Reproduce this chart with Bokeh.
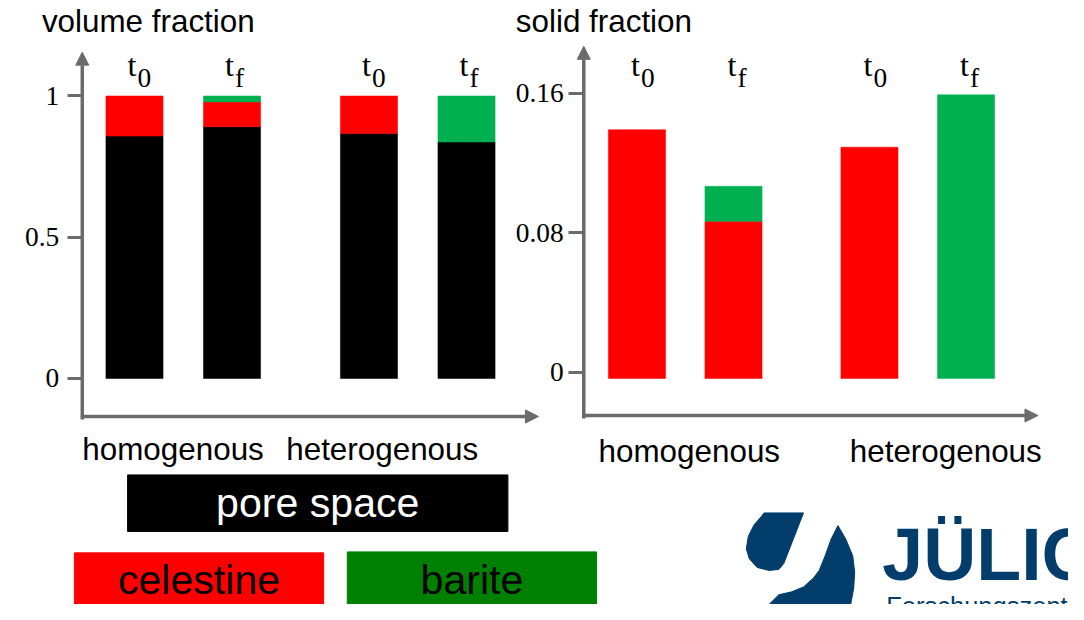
import numpy as np
from bokeh.plotting import figure
from bokeh.models import (Range1d, LinearAxis, FixedTicker, Arrow, NormalHead,
                          ColumnDataSource)
from bokeh.core.properties import value
from bokeh.embed import file_html
from bokeh.resources import INLINE

# ---------------- data ----------------
conditions = ["homogenous", "heterogenous"]
bar_condition = ["homogenous", "homogenous", "heterogenous", "heterogenous"]
time_subscripts = ["0", "f", "0", "f"]

vol_pore = [0.858, 0.891, 0.867, 0.837]
vol_celestine = [0.142, 0.088, 0.133, 0.0]
vol_barite = [0.0, 0.021, 0.0, 0.163]

solid_celestine = [0.139, 0.0865, 0.129, 0.0]
solid_barite = [0.0, 0.0201, 0.0, 0.159]

vol_ticks = [0, 0.5, 1]
vol_tick_labels = ["0", "0.5", "1"]
solid_ticks = [0, 0.08, 0.16]
solid_tick_labels = ["0", "0.08", "0.16"]

titles = ["volume fraction", "solid fraction"]
legend_labels = ["pore space", "celestine", "barite"]
logo_texts = ["JÜLICH", "Forschungszentrum"]

# ---------------- style / layout ----------------
C_PORE, C_CEL, C_BAR = "#000000", "#ff0000", "#00b050"
LEG_FILL = ["#000000", "#ff0000", "#008000"]
LEG_TEXT = ["#ffffff", "#000000", "#000000"]
AX = "#6b6b6b"
SANS = "Liberation Sans"
SERIF = "Liberation Serif"
LOGO = "#023d6b"

W, H = 1068, 604            # figure size (fits window with 8px margin)
RW, RH = 1084, 620          # layout design space
SX, SY = W / RW, H / RH
FS = (SX + SY) / 2          # font scale
BASE_FIX = 0.37             # baseline compensation (em)

p = figure(width=W, height=H, x_range=Range1d(0, RW), y_range=Range1d(RH, 0),
           output_backend="svg", toolbar_location=None,
           x_axis_location=None, y_axis_location=None, min_border=0)
p.outline_line_color = None
p.grid.visible = False
p.background_fill_color = "white"
p.border_fill_color = "white"


def fpx(size):
    return "%.1fpx" % (size * FS)


def put_text(xs, ys, texts, size, font=SANS, color="#000000", align="left",
             style="normal", x_range_name="default", x_offset=0):
    size_s = size * FS
    ys = [y - BASE_FIX * size_s / SY for y in ys]
    src = ColumnDataSource(dict(x=list(xs), y=ys, text=list(texts),
                                color=[color] * len(texts) if isinstance(color, str) else list(color)))
    p.text(x="x", y="y", text="text", source=src, text_color="color",
           text_font=value(font), text_font_size=value("%.1fpx" % size_s),
           text_font_style=style, text_align=align, text_baseline="alphabetic",
           x_range_name=x_range_name, x_offset=x_offset)


def add_chart(key, x_first, x_step, group_gap, y_zero, px_per_unit, layers, base,
              axis_x, xaxis_y, xaxis_end, yaxis_top, ticks, tick_labels, standoff,
              title, title_x, cat_x, cat_y, t_off):
    group_idx = np.array([conditions.index(c) for c in bar_condition])
    pos = np.arange(len(bar_condition)) + group_gap * group_idx
    p.extra_x_ranges[key] = Range1d((0 - x_first) / x_step, (RW - x_first) / x_step)
    p.extra_y_ranges[key] = Range1d((y_zero - RH) / px_per_unit, (y_zero - 0) / px_per_unit)
    bw = 58.0 / x_step

    cum = np.zeros(len(pos))
    for vals, color in layers:
        vals = np.asarray(vals, dtype=float)
        bottom = np.where(cum == 0, base, cum)
        top = cum + vals
        m = vals > 0
        src = ColumnDataSource(dict(x=pos[m], bottom=bottom[m], top=top[m]))
        p.vbar(x="x", width=bw, bottom="bottom", top="top", source=src,
               fill_color=color, line_color=color, line_width=0.5,
               x_range_name=key, y_range_name=key)
        cum = top

    # axis lines with arrow heads
    p.add_layout(Arrow(end=NormalHead(size=13, fill_color=AX, line_color=AX),
                       x_start=axis_x, y_start=xaxis_y + 3, x_end=axis_x, y_end=yaxis_top,
                       line_color=AX, line_width=3.5))
    p.add_layout(Arrow(end=NormalHead(size=13, fill_color=AX, line_color=AX),
                       x_start=axis_x - 1.5, y_start=xaxis_y, x_end=xaxis_end, y_end=xaxis_y,
                       line_color=AX, line_width=3.5))

    ax = LinearAxis(y_range_name=key, fixed_location=axis_x,
                    ticker=FixedTicker(ticks=ticks),
                    major_label_overrides={float(t): l for t, l in zip(ticks, tick_labels)},
                    axis_line_color=None, major_tick_in=0, major_tick_out=15,
                    major_tick_line_color=AX, major_tick_line_width=3,
                    minor_tick_line_color=None, major_label_standoff=standoff,
                    major_label_text_font=SERIF, major_label_text_font_size=fpx(28),
                    major_label_text_color="#000000")
    p.add_layout(ax, "left")

    # time labels t0 / tf
    put_text(pos, [78] * len(pos), ["t"] * len(pos), 33, font=SERIF, align="right",
             x_range_name=key, x_offset=t_off)
    put_text(pos, [90] * len(pos), time_subscripts, 28, font=SERIF, align="left",
             x_range_name=key, x_offset=t_off + 1)

    put_text([title_x], [33], [title], 32)
    put_text(cat_x, [cat_y] * len(cat_x), conditions, 32)


add_chart("vol", x_first=136, x_step=99, group_gap=0.404, y_zero=388, px_per_unit=290,
          layers=[(vol_pore, C_PORE), (vol_celestine, C_CEL), (vol_barite, C_BAR)], base=0.0,
          axis_x=83, xaxis_y=427, xaxis_end=546, yaxis_top=53,
          ticks=vol_ticks, tick_labels=vol_tick_labels, standoff=8,
          title=titles[0], title_x=42, cat_x=[83, 290], cat_y=473, t_off=2)

add_chart("solid", x_first=646, x_step=98, group_gap=0.408, y_zero=381.7, px_per_unit=1791.7,
          layers=[(solid_celestine, C_CEL), (solid_barite, C_BAR)], base=-0.0035,
          axis_x=592, xaxis_y=426, xaxis_end=1053, yaxis_top=47,
          ticks=solid_ticks, tick_labels=solid_tick_labels, standoff=5,
          title=titles[1], title_x=523, cat_x=[607, 862], cat_y=475, t_off=3)

# ---------------- legend boxes ----------------
leg_left = [129, 75, 352]
leg_right = [515, 328, 605]
leg_top = [487, 567, 566]
leg_bottom = [545, 640, 640]
leg_text_y = [531, 610, 610]
lsrc = ColumnDataSource(dict(left=leg_left, right=leg_right, top=leg_top, bottom=leg_bottom,
                             fill=LEG_FILL))
p.quad(left="left", right="right", top="top", bottom="bottom", fill_color="fill",
       line_color="fill", source=lsrc)
put_text([(a + b) / 2 for a, b in zip(leg_left, leg_right)], leg_text_y, legend_labels, 42,
         color=LEG_TEXT, align="center")

# ---------------- logo ----------------
drop_x = [815, 795, 790, 780, 768, 760, 757, 759, 765, 772, 775]
drop_y = [526, 578, 584, 585, 582, 573, 563, 550, 538, 530, 526]
big_x = [850, 858, 865, 867, 866, 862, 775, 790, 803, 815, 825, 831, 837, 843]
big_y = [539, 553, 570, 587, 603, 625, 625, 610, 607, 602, 593, 585, 570, 553]
p.patches(xs=[drop_x, big_x], ys=[drop_y, big_y], fill_color=LOGO, line_color=LOGO)
put_text([895], [597], [logo_texts[0]], 75, color=LOGO, style="bold")
put_text([899], [631], [logo_texts[1]], 26, color=LOGO)

open("out.html", "w").write(file_html(p, INLINE))
